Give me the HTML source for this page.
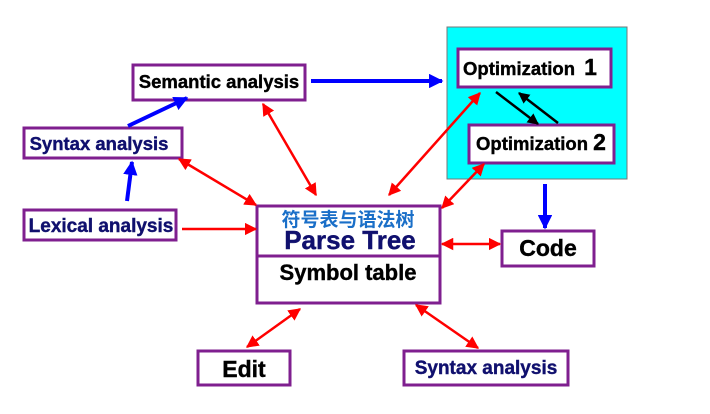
<!DOCTYPE html>
<html><head><meta charset="utf-8"><style>
html,body{margin:0;padding:0;background:#fff;}
svg{display:block;}
text{font-family:"Liberation Sans","Noto Sans CJK SC",sans-serif;font-weight:bold;stroke-width:0.4;}
</style></head><body>
<svg width="710" height="414" viewBox="0 0 710 414" xmlns="http://www.w3.org/2000/svg">
<defs>
<marker id="rb" viewBox="0 0 10 10" refX="9" refY="5" markerWidth="5" markerHeight="5" orient="auto-start-reverse"><path d="M0,0L10,5L0,10z" fill="#ff0000"/></marker>
<marker id="bb" viewBox="0 0 10 10" refX="9" refY="5" markerWidth="3.6" markerHeight="3.6" orient="auto"><path d="M0,0L10,5L0,10z" fill="#0000ff"/></marker>
<marker id="kb" viewBox="0 0 10 10" refX="9" refY="5" markerWidth="4.5" markerHeight="4.5" orient="auto"><path d="M0,0L10,5L0,10z" fill="#000"/></marker>
</defs>
<rect x="447" y="27" width="180" height="152" fill="#00ffff" stroke="#777" stroke-width="1"/>
<g fill="#fff" stroke="#7f1f8f" stroke-width="3">
<rect x="133" y="65" width="172" height="35"/>
<rect x="24" y="128" width="158" height="30"/>
<rect x="24" y="210" width="152" height="30"/>
<rect x="257" y="206" width="183" height="97"/>
<line x1="257" y1="256" x2="440" y2="256"/>
<rect x="458" y="49" width="153" height="38"/>
<rect x="469" y="125" width="145" height="38"/>
<rect x="502" y="231" width="92" height="35"/>
<rect x="198" y="351" width="92" height="34"/>
<rect x="404" y="351" width="164" height="34"/>
</g>
<text x="219" y="88" font-size="18.5" text-anchor="middle" fill="#000" stroke="#000">Semantic analysis</text>
<text x="99" y="150" font-size="18.5" text-anchor="middle" fill="#10106e" stroke="#10106e">Syntax analysis</text>
<text x="101" y="232" font-size="19" text-anchor="middle" fill="#10106e" stroke="#10106e">Lexical analysis</text>
<text x="348" y="226" font-size="19" text-anchor="middle" fill="#1a6fc8">符号表与语法树</text>
<text x="350" y="249" font-size="26" text-anchor="middle" fill="#10106e" stroke="#10106e">Parse Tree</text>
<text x="348" y="280" font-size="22" text-anchor="middle" fill="#000" stroke="#000">Symbol table</text>
<text x="463" y="75" font-size="18.5" fill="#000" stroke="#000">Optimization <tspan font-size="23" dx="4">1</tspan></text>
<text x="476" y="150" font-size="18.5" fill="#000" stroke="#000">Optimization <tspan font-size="23">2</tspan></text>
<text x="548" y="256" font-size="23" text-anchor="middle" fill="#000" stroke="#000">Code</text>
<text x="244" y="377" font-size="23" text-anchor="middle" fill="#000" stroke="#000">Edit</text>
<text x="486" y="374" font-size="19" text-anchor="middle" fill="#10106e" stroke="#10106e">Syntax analysis</text>
<g stroke="#0000ff" stroke-width="4" fill="none">
<line x1="311" y1="81" x2="442" y2="81" marker-end="url(#bb)"/>
<line x1="128" y1="126" x2="187" y2="98" marker-end="url(#bb)"/>
<line x1="127" y1="201" x2="132" y2="162" marker-end="url(#bb)"/>
<line x1="545" y1="184" x2="545" y2="228" marker-end="url(#bb)"/>
</g>
<g stroke="#ff0000" stroke-width="2.5" fill="none">
<line x1="263" y1="104" x2="316" y2="195" marker-start="url(#rb)" marker-end="url(#rb)"/>
<line x1="179" y1="159" x2="256" y2="205" marker-start="url(#rb)" marker-end="url(#rb)"/>
<line x1="182" y1="229" x2="256" y2="229" marker-end="url(#rb)"/>
<line x1="480" y1="93" x2="389" y2="195" marker-start="url(#rb)" marker-end="url(#rb)"/>
<line x1="484" y1="164" x2="442" y2="208" marker-start="url(#rb)" marker-end="url(#rb)"/>
<line x1="442" y1="244" x2="500" y2="244" marker-start="url(#rb)" marker-end="url(#rb)"/>
<line x1="247" y1="347" x2="300" y2="309" marker-start="url(#rb)" marker-end="url(#rb)"/>
<line x1="416" y1="305" x2="478" y2="348" marker-start="url(#rb)" marker-end="url(#rb)"/>
</g>
<g stroke="#000" stroke-width="2.5" fill="none">
<line x1="496" y1="92" x2="538" y2="124" marker-end="url(#kb)"/>
<line x1="558" y1="123" x2="519" y2="93" marker-end="url(#kb)"/>
</g>
</svg>
</body></html>
